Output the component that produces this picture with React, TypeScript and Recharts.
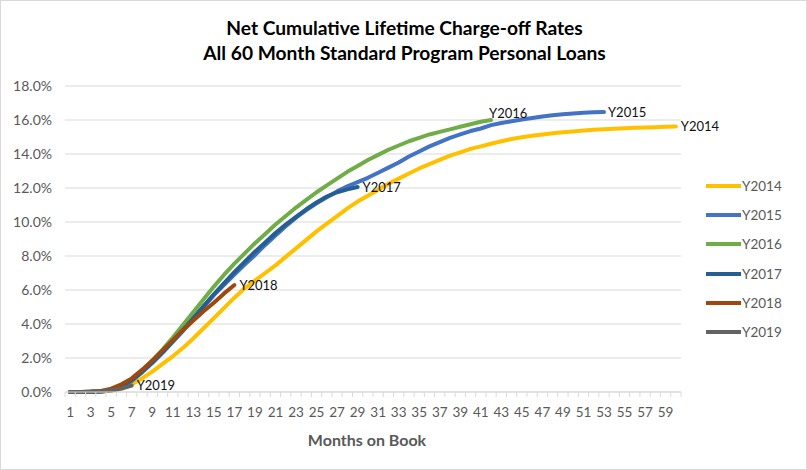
import React from 'react';
import { LineChart, Line, XAxis, YAxis, CartesianGrid, Legend, LabelList } from 'recharts';

const months: number[] = Array.from({ length: 60 }, (_, i) => i + 1);

const y2014 = [0, 0, 0.01, 0.03, 0.07, 0.2, 0.45, 0.8, 1.2, 1.65,
  2.1, 2.6, 3.15, 3.75, 4.35, 4.95, 5.55, 6.1, 6.55, 7.0,
  7.45, 7.95, 8.45, 8.95, 9.45, 9.9, 10.35, 10.8, 11.2, 11.55,
  11.9, 12.25, 12.55, 12.85, 13.15, 13.4, 13.65, 13.9, 14.1, 14.3,
  14.45, 14.6, 14.75, 14.88, 14.98, 15.07, 15.15, 15.22, 15.28, 15.33,
  15.38, 15.42, 15.46, 15.49, 15.52, 15.54, 15.56, 15.58, 15.6, 15.62];
const y2015 = [0, 0, 0.01, 0.03, 0.1, 0.3, 0.65, 1.15, 1.7, 2.3,
  2.95, 3.6, 4.3, 5.0, 5.7, 6.3, 6.9, 7.5, 8.05, 8.65,
  9.2, 9.75, 10.25, 10.7, 11.1, 11.45, 11.8, 12.1, 12.35, 12.6,
  12.9, 13.2, 13.5, 13.85, 14.15, 14.45, 14.7, 14.95, 15.15, 15.35,
  15.5, 15.7, 15.82, 15.93, 16.03, 16.12, 16.2, 16.28, 16.34, 16.38,
  16.42, 16.45, 16.47];
const y2016 = [0, 0, 0.01, 0.03, 0.1, 0.3, 0.7, 1.25, 1.85, 2.5,
  3.2, 3.95, 4.7, 5.45, 6.2, 6.9, 7.55, 8.15, 8.75, 9.3,
  9.85, 10.35, 10.85, 11.3, 11.75, 12.15, 12.55, 12.95, 13.3, 13.65,
  13.95, 14.25, 14.5, 14.75, 14.95, 15.15, 15.3, 15.45, 15.6, 15.75,
  15.9, 16.0];
const y2017 = [0, 0, 0.01, 0.04, 0.12, 0.32, 0.7, 1.2, 1.75, 2.35,
  3.0, 3.65, 4.35, 5.05, 5.75, 6.4, 7.05, 7.65, 8.25, 8.8,
  9.35, 9.85, 10.3, 10.75, 11.15, 11.5, 11.75, 11.92, 12.06];
const y2018 = [0, 0, 0.02, 0.06, 0.2, 0.45, 0.8, 1.3, 1.85, 2.45,
  3.05, 3.65, 4.2, 4.75, 5.25, 5.8, 6.29];
const y2019 = [0, 0, 0.01, 0.03, 0.09, 0.2, 0.38];

const seriesNames = ['Y2014', 'Y2015', 'Y2016', 'Y2017', 'Y2018', 'Y2019'];
const seriesValues = [y2014, y2015, y2016, y2017, y2018, y2019];
const seriesColors = ['#FFC000', '#4472C4', '#70AD47', '#255E91', '#9E480E', '#636363'];
const labelDx = [5, 4, -2, 5, 5, 5];
const labelDy = [0, 0, -7, 0, 0, 0];

const yTicks = [0, 2, 4, 6, 8, 10, 12, 14, 16, 18];

const titleLines = ['Net Cumulative Lifetime Charge-off Rates', 'All 60 Month Standard Program Personal Loans'];
const xTitle = 'Months on Book';

const data = months.map((m, i) => {
  const row: Record<string, number | null> = { month: m };
  seriesNames.forEach((n, k) => {
    const v = seriesValues[k][i];
    row[n] = v === undefined ? null : v;
  });
  return row;
});

const W = 807;
const H = 470;
const PLOT_LEFT = 64;
const PLOT_RIGHT = 680;
const PLOT_TOP = 85;
const PLOT_BOTTOM = 391;
const HALF = (PLOT_RIGHT - PLOT_LEFT) / months.length / 2;
const FONT = 'Lato, "Open Sans", sans-serif';
const AXIS_COLOR = '#595959';
const GRID = '#D9D9D9';

const XTick = (props: any) => {
  const { x, y, payload, index } = props;
  const v = payload.value as number;
  return (
    <g>
      <line x1={x - HALF} x2={x - HALF} y1={y} y2={y + 5} stroke={GRID} />
      {index === months.length - 1 ? <line x1={x + HALF} x2={x + HALF} y1={y} y2={y + 5} stroke={GRID} /> : null}
      {v % 2 === 1 ? (
        <text x={x} y={y + 25} textAnchor="middle" fill={AXIS_COLOR} fontSize={13.5} fontFamily={FONT}>{v}</text>
      ) : null}
    </g>
  );
};

const makeEndLabel = (k: number) => (props: any) => {
  const { x, y, index } = props;
  if (index !== seriesValues[k].length - 1 || x == null || y == null) return null;
  return (
    <text x={x + labelDx[k]} y={y + labelDy[k]} dy="0.35em" fill="#111" fontSize={13} fontFamily={FONT}>
      {seriesNames[k]}
    </text>
  );
};

const LegendBox = () => (
  <div style={{ fontFamily: FONT, fontSize: 13.5, color: AXIS_COLOR }}>
    {seriesNames.map((n, k) => (
      <div key={n} style={{ display: 'flex', alignItems: 'center', height: 29.3 }}>
        <svg width={37} height={6} style={{ display: 'block' }}>
          <line x1={1} x2={36} y1={3} y2={3} stroke={seriesColors[k]} strokeWidth={4} />
        </svg>
        <span style={{ lineHeight: '14px' }}>{n}</span>
      </div>
    ))}
  </div>
);

export default function App() {
  return (
    <div style={{ position: 'absolute', left: 0, top: 0, width: W, height: H, background: '#fff', border: '1px solid #D9D9D9', boxSizing: 'border-box' }}>
      <div style={{ position: 'absolute', left: 0, top: 0, width: W, height: H }}>
        <LineChart
          width={W}
          height={H}
          data={data}
          margin={{ top: PLOT_TOP, right: W - PLOT_RIGHT, bottom: 39, left: 0 }}
        >
          <CartesianGrid vertical={false} stroke={GRID} />
          <XAxis
            dataKey="month"
            type="category"
            interval={0}
            padding={{ left: HALF, right: HALF }}
            tickLine={false}
            tickSize={0}
            tickMargin={0}
            axisLine={{ stroke: GRID }}
            tick={<XTick />}
            height={H - PLOT_BOTTOM - 39}
          />
          <YAxis
            type="number"
            domain={[0, 18]}
            ticks={yTicks}
            tickFormatter={(v: number) => v.toFixed(1) + '%'}
            axisLine={false}
            tickLine={false}
            tickMargin={7}
            width={PLOT_LEFT}
            tick={{ fill: AXIS_COLOR, fontSize: 14, fontFamily: FONT }}
          />
          <Legend
            layout="vertical"
            align="center"
            verticalAlign="middle"
            content={() => <LegendBox />}
            wrapperStyle={{ left: 704, top: 170, width: 100 }}
          />
          {seriesNames.map((n, k) => (
            <Line
              key={n}
              type="linear"
              dataKey={n}
              name={n}
              stroke={seriesColors[k]}
              strokeWidth={4}
              dot={false}
              activeDot={false}
              isAnimationActive={false}
              connectNulls={false}
              strokeLinejoin="round"
              strokeLinecap="round"
            >
              <LabelList dataKey={n} content={makeEndLabel(k)} />
            </Line>
          ))}
        </LineChart>
      </div>
      <div style={{ position: 'absolute', left: 0, top: 14, width: W, textAlign: 'center', fontFamily: FONT, fontWeight: 700, fontSize: 19.2, lineHeight: '25px', color: '#000' }}>
        {titleLines.map((t) => <div key={t}>{t}</div>)}
      </div>
      <div style={{ position: 'absolute', left: 266, top: 429, width: 200, textAlign: 'center', fontFamily: FONT, fontWeight: 700, fontSize: 16, color: AXIS_COLOR }}>
        {xTitle}
      </div>
    </div>
  );
}
